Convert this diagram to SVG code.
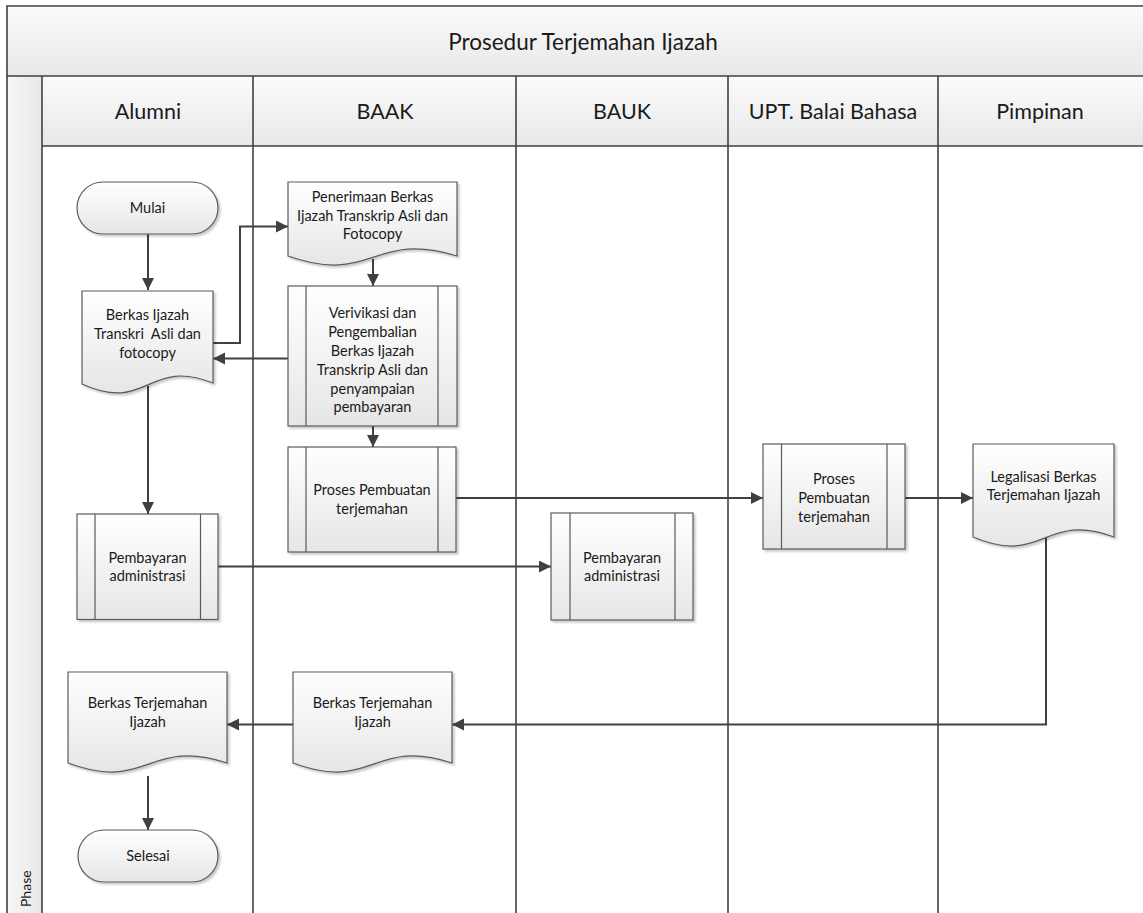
<svg xmlns="http://www.w3.org/2000/svg" width="1143" height="913" viewBox="0 0 1143 913">
  <defs>
    <linearGradient id="nodeFill" x1="0" y1="0" x2="0" y2="1">
      <stop offset="0" stop-color="#ffffff"/>
      <stop offset="1" stop-color="#e6e6e6"/>
    </linearGradient>
    <linearGradient id="bandFill" x1="0" y1="0" x2="0" y2="1">
      <stop offset="0" stop-color="#fbfbfb"/>
      <stop offset="1" stop-color="#e8e8e8"/>
    </linearGradient>
    <linearGradient id="phaseFill" x1="0" y1="0" x2="1" y2="0">
      <stop offset="0" stop-color="#f6f6f6"/>
      <stop offset="1" stop-color="#e9e9e9"/>
    </linearGradient>
    <filter id="shadow" x="-10%" y="-10%" width="130%" height="130%">
      <feDropShadow dx="2" dy="2" stdDeviation="1.2" flood-color="#000000" flood-opacity="0.22"/>
    </filter>
    <marker id="arrow" markerUnits="userSpaceOnUse" markerWidth="13" markerHeight="13" refX="12" refY="6" orient="auto">
      <path d="M0,0 L12,6 L0,12 Z" fill="#404040"/>
    </marker>
    <style>
      .lane { stroke: #404040; stroke-width: 1.6; fill: none; }
      .shape { fill: url(#nodeFill); stroke: #5a5a5a; stroke-width: 1.2; filter: url(#shadow); }
      .inner { stroke: #5a5a5a; stroke-width: 1.2; fill: none; }
      .txt { font-family: Lato, "Liberation Sans", sans-serif; font-size: 14.5px; fill: #1a1a1a; text-anchor: middle; }
      .head { font-family: Lato, "Liberation Sans", sans-serif; font-size: 21.5px; fill: #1a1a1a; text-anchor: middle; }
      .title { font-family: Lato, "Liberation Sans", sans-serif; font-size: 22.5px; fill: #1a1a1a; text-anchor: middle; }
      .phase { font-family: Lato, "Liberation Sans", sans-serif; font-size: 14px; fill: #1a1a1a; }
      .conn { stroke: #404040; stroke-width: 2; fill: none; marker-end: url(#arrow); }
    </style>
  </defs>

  <rect x="0" y="0" width="1143" height="913" fill="#ffffff"/>

  <!-- pool frame, title band, lane headers -->
  <g id="pool">
    <rect x="7" y="6" width="1150" height="70" fill="url(#bandFill)"/>
    <rect x="42" y="76" width="1115" height="70" fill="url(#bandFill)"/>
    <rect x="7" y="76" width="35" height="845" fill="url(#phaseFill)"/>
    <path class="lane" d="M7,920 V6 H1150"/>
    <path class="lane" d="M7,76 H1150"/>
    <path class="lane" d="M42,146 H1150"/>
    <path class="lane" d="M42,76 V920"/>
    <path class="lane" d="M253,76 V920"/>
    <path class="lane" d="M516,76 V920"/>
    <path class="lane" d="M728,76 V920"/>
    <path class="lane" d="M938,76 V920"/>
    <text class="title" x="583" y="50">Prosedur Terjemahan Ijazah</text>
    <text class="head" x="148" y="119">Alumni</text>
    <text class="head" x="385" y="119">BAAK</text>
    <text class="head" x="622" y="119">BAUK</text>
    <text class="head" x="833" y="119">UPT. Balai Bahasa</text>
    <text class="head" x="1040" y="119">Pimpinan</text>
    <text class="phase" transform="translate(31,907) rotate(-90)">Phase</text>
  </g>

  <!-- connectors -->
  <g id="connectors">
    <path class="conn" d="M148,234 V290"/>
    <path class="conn" d="M213,343 H240 V226.5 H288"/>
    <path class="conn" d="M373,259 V286"/>
    <path class="conn" d="M288,358.5 H213"/>
    <path class="conn" d="M373,426 V447"/>
    <path class="conn" d="M148,386 V514"/>
    <path class="conn" d="M456,498 H763"/>
    <path class="conn" d="M905,498 H973"/>
    <path class="conn" d="M218,566.5 H551"/>
    <path class="conn" d="M1046,538 V724.5 H452"/>
    <path class="conn" d="M293,724.5 H227"/>
    <path class="conn" d="M148,776 V830"/>
  </g>

  <!-- Alumni lane -->
  <g id="mulai">
    <rect class="shape" x="77" y="182" width="141" height="52" rx="26" ry="26"/>
    <text class="txt" x="147.5" y="213">Mulai</text>
  </g>
  <g id="berkas-ijazah">
    <path class="shape" d="M82,291 H213 V383 C147.5,357 147.5,414 82,384 Z"/>
    <text class="txt" x="147.5" y="320">Berkas Ijazah</text>
    <text class="txt" x="147.5" y="339" xml:space="preserve">Transkri  Asli dan</text>
    <text class="txt" x="147.5" y="357.5">fotocopy</text>
  </g>
  <g id="pembayaran-alumni">
    <rect class="shape" x="77" y="514" width="141" height="105.5"/>
    <path class="inner" d="M95,514 V619.5 M200.5,514 V619.5"/>
    <text class="txt" x="147.5" y="563">Pembayaran</text>
    <text class="txt" x="147.5" y="581">administrasi</text>
  </g>
  <g id="berkas-terjemahan-alumni">
    <path class="shape" d="M68,672 H227 V763 C147.5,737 147.5,793 68,763 Z"/>
    <text class="txt" x="147.5" y="708">Berkas Terjemahan</text>
    <text class="txt" x="147.5" y="726.5">Ijazah</text>
  </g>
  <g id="selesai">
    <rect class="shape" x="78" y="830" width="140" height="52" rx="26" ry="26"/>
    <text class="txt" x="148" y="861">Selesai</text>
  </g>

  <!-- BAAK lane -->
  <g id="penerimaan">
    <path class="shape" d="M288,182 H457 V256 C372.5,230 372.5,286 288,256 Z"/>
    <text class="txt" x="372.5" y="201.5">Penerimaan Berkas</text>
    <text class="txt" x="372.5" y="220.5">Ijazah Transkrip Asli dan</text>
    <text class="txt" x="372.5" y="239">Fotocopy</text>
  </g>
  <g id="verivikasi">
    <rect class="shape" x="288" y="286" width="169" height="140"/>
    <path class="inner" d="M306,286 V426 M438,286 V426"/>
    <text class="txt" x="372.5" y="318">Verivikasi dan</text>
    <text class="txt" x="372.5" y="337">Pengembalian</text>
    <text class="txt" x="372.5" y="356">Berkas Ijazah</text>
    <text class="txt" x="372.5" y="375">Transkrip Asli dan</text>
    <text class="txt" x="372.5" y="393.5">penyampaian</text>
    <text class="txt" x="372.5" y="412">pembayaran</text>
  </g>
  <g id="proses-baak">
    <rect class="shape" x="288" y="447" width="168" height="105"/>
    <path class="inner" d="M306,447 V552 M438,447 V552"/>
    <text class="txt" x="372" y="495">Proses Pembuatan</text>
    <text class="txt" x="372" y="513.5">terjemahan</text>
  </g>
  <g id="berkas-terjemahan-baak">
    <path class="shape" d="M293,672 H452 V763 C372.5,737 372.5,793 293,763 Z"/>
    <text class="txt" x="372.5" y="708">Berkas Terjemahan</text>
    <text class="txt" x="372.5" y="726.5">Ijazah</text>
  </g>

  <!-- BAUK lane -->
  <g id="pembayaran-bauk">
    <rect class="shape" x="551" y="513" width="142" height="107"/>
    <path class="inner" d="M570,513 V620 M675,513 V620"/>
    <text class="txt" x="622" y="563">Pembayaran</text>
    <text class="txt" x="622" y="581">administrasi</text>
  </g>

  <!-- UPT. Balai Bahasa lane -->
  <g id="proses-upt">
    <rect class="shape" x="763" y="444" width="142" height="105"/>
    <path class="inner" d="M781.5,444 V549 M887,444 V549"/>
    <text class="txt" x="834" y="484">Proses</text>
    <text class="txt" x="834" y="503">Pembuatan</text>
    <text class="txt" x="834" y="522">terjemahan</text>
  </g>

  <!-- Pimpinan lane -->
  <g id="legalisasi">
    <path class="shape" d="M973,444 H1114 V537 C1043.5,511 1043.5,567 973,537 Z"/>
    <text class="txt" x="1043.5" y="481.5">Legalisasi Berkas</text>
    <text class="txt" x="1043.5" y="500">Terjemahan Ijazah</text>
  </g>
</svg>
